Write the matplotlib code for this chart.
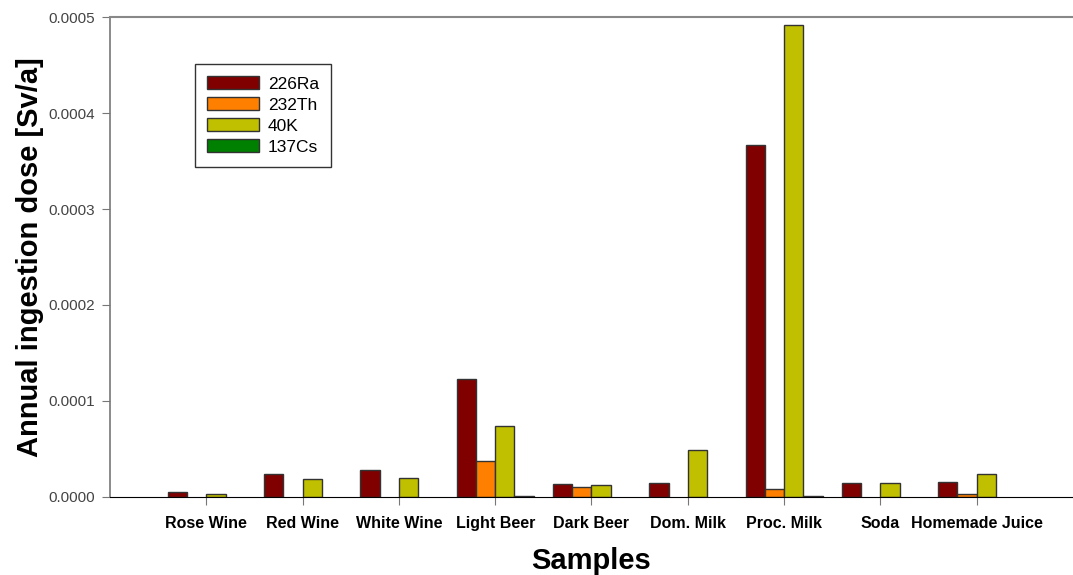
import matplotlib.pyplot as plt
import numpy as np

plt.rcParams['font.family'] = ['Liberation Sans', 'DejaVu Sans']

samples = ["Rose Wine", "Red Wine", "White Wine", "Light Beer", "Dark Beer",
           "Dom. Milk", "Proc. Milk", "Soda", "Homemade Juice"]

# annual ingestion dose [Sv/a]
ra226 = [5.5e-6, 2.36e-5, 2.8e-5, 1.23e-4, 1.32e-5, 1.49e-5, 3.67e-4, 1.49e-5, 1.6e-5]
th232 = [0.0, 0.0, 0.0, 3.75e-5, 1.0e-5, 0.0, 8.0e-6, 0.0, 3.4e-6]
k40 = [3.5e-6, 1.84e-5, 1.95e-5, 7.4e-5, 1.22e-5, 4.86e-5, 4.92e-4, 1.46e-5, 2.43e-5]
cs137 = [0.0, 0.0, 0.0, 1.0e-6, 0.0, 0.0, 1.0e-6, 0.0, 0.0]

series = [("226Ra", ra226, "#800000"),
          ("232Th", th232, "#ff8000"),
          ("40K", k40, "#c0c000"),
          ("137Cs", cs137, "#008000")]

x = np.arange(1, len(samples) + 1)
w = 0.2

fig = plt.figure(figsize=(10.73, 5.75), dpi=100)
ax = fig.add_axes([0.1025, 0.1357, 0.8975, 0.8347])

for i, (name, vals, col) in enumerate(series):
    vals = np.array(vals)
    h = np.where(vals > 0, vals, np.nan)  # zero bars are not drawn
    ax.bar(x + (i - 1.5) * w, h, w, color=col, edgecolor="#333333",
           linewidth=1, label=name)

ax.set_xlim(0, 10)
ax.set_ylim(0, 0.0005)
yt = np.arange(0, 0.00051, 0.0001)
ax.set_yticks(yt)
ax.set_yticklabels(["%.4f" % v for v in yt])
ax.set_xticks(x)
ax.set_xticklabels(samples, fontweight="bold", fontsize=11.5)

ax.tick_params(axis="y", direction="out", length=6, color="#777777",
               labelcolor="#444444", labelsize=11, pad=5)
ax.tick_params(axis="x", direction="out", length=6, color="#777777", pad=8)

ax.spines["right"].set_visible(False)
ax.spines["left"].set_color("#777777")
ax.spines["top"].set_color("#888888")
ax.spines["top"].set_linewidth(1.5)
ax.spines["left"].set_linewidth(1.2)
ax.spines["bottom"].set_color("black")

ax.set_xlabel("Samples", fontsize=21, fontweight="bold", labelpad=11)
ax.set_ylabel("Annual ingestion dose [Sv/a]", fontsize=21, fontweight="bold",
              labelpad=3)

leg = ax.legend(loc="upper left", bbox_to_anchor=(0.088, 0.902), fontsize=12.5,
                fancybox=False, edgecolor="#333333", framealpha=1,
                handlelength=3.0, handleheight=0.8, borderpad=0.7,
                labelspacing=0.3, handletextpad=0.5, borderaxespad=0)
leg.get_frame().set_linewidth(1)

fig.savefig("out.png")
